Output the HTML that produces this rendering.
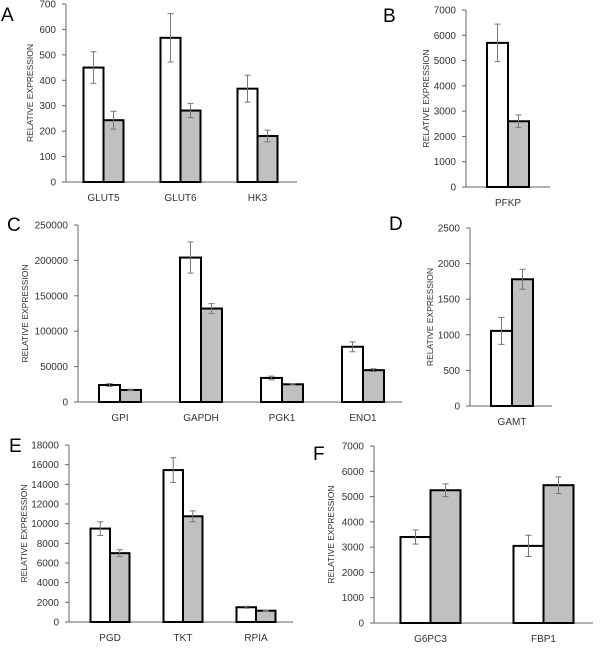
<!DOCTYPE html>
<html><head><meta charset="utf-8"><style>
html,body{margin:0;padding:0;background:#fff;}
svg{display:block;font-family:"Liberation Sans",sans-serif;}
</style></head><body>
<svg id="fig" width="600" height="648" viewBox="0 0 600 648" xmlns="http://www.w3.org/2000/svg"></svg>
<script>
const aCats=["GLUT5","GLUT6","HK3"];
const aWhite=[450,567,367];
const aWhiteErr=[62,95,53];
const aGray=[243,281,181];
const aGrayErr=[35,28,23];
const aTicks=[0,100,200,300,400,500,600,700];

const bCats=["PFKP"];
const bWhite=[5700];
const bWhiteErr=[740];
const bGray=[2600];
const bGrayErr=[250];
const bTicks=[0,1000,2000,3000,4000,5000,6000,7000];

const cCats=["GPI","GAPDH","PGK1","ENO1"];
const cWhite=[24000,204000,34000,78000];
const cWhiteErr=[2000,22000,2500,7000];
const cGray=[17000,132000,25000,45000];
const cGrayErr=[1000,7000,1000,2000];
const cTicks=[0,50000,100000,150000,200000,250000];

const dCats=["GAMT"];
const dWhite=[1055];
const dWhiteErr=[190];
const dGray=[1780];
const dGrayErr=[140];
const dTicks=[0,500,1000,1500,2000,2500];

const eCats=["PGD","TKT","RPIA"];
const eWhite=[9500,15450,1500];
const eWhiteErr=[700,1250,100];
const eGray=[7000,10750,1150];
const eGrayErr=[350,550,50];
const eTicks=[0,2000,4000,6000,8000,10000,12000,14000,16000,18000];

const fCats=["G6PC3","FBP1"];
const fWhite=[3400,3050];
const fWhiteErr=[280,420];
const fGray=[5250,5450];
const fGrayErr=[250,330];
const fTicks=[0,1000,2000,3000,4000,5000,6000,7000];

const NS="http://www.w3.org/2000/svg";
const svg=document.getElementById("fig");
function mk(tag,attrs,parent){const e=document.createElementNS(NS,tag);for(const k in attrs)e.setAttribute(k,attrs[k]);(parent||svg).appendChild(e);return e;}

function panel(p){
  const g=mk("g",{});
  
  
  const max=p.ticks[p.ticks.length-1];
  const y=v=>p.y0-(v/max)*(p.y0-p.yTop);
  const lbl=mk("text",{x:p.lx,y:p.ly,"font-size":19,fill:"#000"},g);lbl.textContent=p.id;
  
  
  const ya=mk("line",{x1:p.ax,y1:p.yTop,x2:p.ax,y2:p.y0,stroke:"#666","stroke-width":1},g);
  
  
  p.ticks.forEach(t=>{
    mk("line",{x1:p.ax-4,y1:y(t),x2:p.ax,y2:y(t),stroke:"#666","stroke-width":1},g);
    const tx=mk("text",{x:p.ax-10,y:y(t)+3.5,"font-size":10,fill:"#333","text-anchor":"end"},g);
    tx.textContent=t;
    
    
  });
  const cy=(p.y0+p.yTop)/2;
  const at=mk("text",{x:p.tx,y:cy,"font-size":8.5,fill:"#333","text-anchor":"middle",transform:`rotate(-90 ${p.tx} ${cy})`},g);
  at.textContent="RELATIVE EXPRESSION";
  
  
  const xa=mk("line",{x1:p.ax,y1:p.y0,x2:p.xEnd,y2:p.y0,stroke:"#666","stroke-width":1},g);
  
  
  const n=p.cats.length, span=(p.catW||(p.xEnd-p.ax))/n;
  p.cats.forEach((c,i)=>{
    const cx=p.ax+span*(i+0.5)+p.shift;
    [[p.white,p.whiteErr,"#fff",-1],[p.gray,p.grayErr,"#c0c0c0",0]].forEach(([vals,errs,fill,off])=>{
      const x0=cx+off*p.bw;
      const r=mk("rect",{x:x0,y:y(vals[i]),width:p.bw,height:p.y0-y(vals[i]),fill:fill,stroke:"#000","stroke-width":2},g);
      
      
      const ex=x0+p.bw/2, hi=y(vals[i]+errs[i]), lo=y(vals[i]-errs[i]);
      const el=mk("path",{d:`M${ex},${hi}V${lo}M${ex-3},${hi}H${ex+3}M${ex-3},${lo}H${ex+3}`,stroke:"#777","stroke-width":1,fill:"none"},g);
      
      
    });
    const cl=mk("text",{x:cx,y:p.y0+19,"font-size":10,fill:"#333","text-anchor":"middle"},g);
    cl.textContent=c;
    
    
  });
}
panel({id:"A",cats:aCats,white:aWhite,whiteErr:aWhiteErr,gray:aGray,grayErr:aGrayErr,ticks:aTicks,ax:66,y0:182,yTop:4,xEnd:297,bw:20,shift:-1,tx:33,lx:1,ly:21});
panel({id:"B",cats:bCats,white:bWhite,whiteErr:bWhiteErr,gray:bGray,grayErr:bGrayErr,ticks:bTicks,ax:466,y0:187,yTop:10,xEnd:550,bw:21,shift:0,tx:429,lx:383,ly:22});
panel({id:"C",cats:cCats,white:cWhite,whiteErr:cWhiteErr,gray:cGray,grayErr:cGrayErr,ticks:cTicks,ax:78,y0:402,yTop:225,xEnd:402,bw:21,shift:1.5,tx:28,lx:7,ly:231});
panel({id:"D",cats:dCats,white:dWhite,whiteErr:dWhiteErr,gray:dGray,grayErr:dGrayErr,ticks:dTicks,ax:470,y0:406,yTop:228,xEnd:552,bw:21,shift:1,tx:433,lx:389,ly:230});
panel({id:"E",cats:eCats,white:eWhite,whiteErr:eWhiteErr,gray:eGray,grayErr:eGrayErr,ticks:eTicks,ax:69,y0:622,yTop:445,xEnd:293,catW:219,bw:19.5,shift:4.5,tx:27,lx:9,ly:452});
panel({id:"F",cats:fCats,white:fWhite,whiteErr:fWhiteErr,gray:fGray,grayErr:fGrayErr,ticks:fTicks,ax:374,y0:623,yTop:446,xEnd:593,catW:226,bw:30,shift:0,tx:334,lx:313,ly:460});
</script>
</body></html>
